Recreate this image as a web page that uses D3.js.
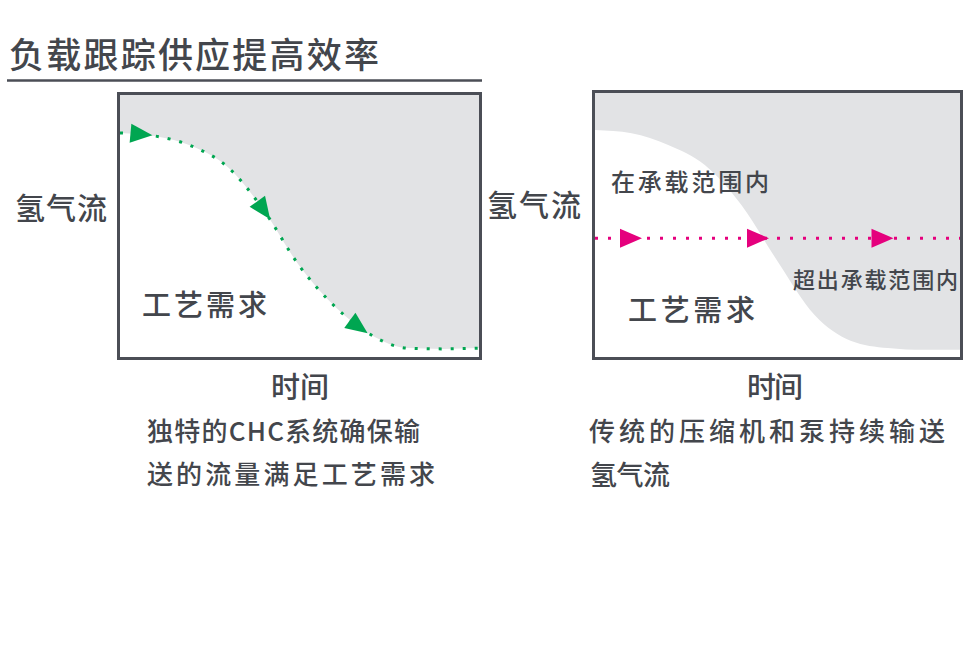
<!DOCTYPE html>
<html>
<head>
<meta charset="utf-8">
<script src="https://cdn.jsdelivr.net/npm/d3@7.9.0/dist/d3.min.js"></script>
<style>
  html, body { margin: 0; padding: 0; background: #fff; }
  svg { display: block; }
  text { font-family: "Noto Sans CJK SC", "Noto Sans", sans-serif; font-weight: 500; fill: #43464c; }
</style>
</head>
<body>
<svg id="chart" width="969" height="646"></svg>
<script>
// time axis is 0..10, flow axis is 0..10 for both panels
const timeSteps = [0, 1, 2, 3, 4, 5, 6, 7, 8, 9, 10];
const chcFlow = [8.55, 8.43, 8.05, 7.25, 5.61, 3.47, 1.91, 0.84, 0.34, 0.31, 0.34];
const processDemand = [8.60, 8.48, 8.03, 7.27, 5.76, 3.60, 1.59, 0.61, 0.34, 0.27, 0.27];
const constantFlow = [4.5, 4.5];
const constantTimes = [0, 10];
const greenArrowTimes = [0.6, 4.0, 6.65];
const pinkArrowTimes = [0.98, 4.45, 7.85];

const title = "负载跟踪供应提高效率";
const yLabel = "氢气流";
const xLabel = "时间";
const demandLabel = "工艺需求";
const leftCaption = ["独特的CHC系统确保输", "送的流量满足工艺需求"];
const rightCaption = ["传统的压缩机和泵持续输送", "氢气流"];
const inRangeLabel = "在承载范围内";
const outRangeLabel = "超出承载范围内";

const GRAY = "#e2e3e5";
const BORDER = "#4b4e56";
const GREEN = "#00a651";
const PINK = "#e5007d";

const svg = d3.select("#chart");

// title + rule
svg.append("text")
  .attr("x", 9).attr("y", 52)
  .attr("dominant-baseline", "central")
  .attr("font-size", 35)
  .attr("textLength", 370).attr("lengthAdjust", "spacing")
  .text(title);

svg.append("line")
  .attr("x1", 7).attr("x2", 482)
  .attr("y1", 80.5).attr("y2", 80.5)
  .attr("stroke", BORDER).attr("stroke-width", 2.5);

function label(x, y, size, len, str, anchor = "start") {
  const t = svg.append("text")
    .attr("x", x).attr("y", y)
    .attr("dominant-baseline", "central")
    .attr("text-anchor", anchor)
    .attr("font-size", size)
    .text(str);
  if (len) t.attr("textLength", len).attr("lengthAdjust", "spacing");
  return t;
}

function drawArrows(g, pathNode, xScale, times, color) {
  const total = pathNode.getTotalLength();
  const samples = d3.range(0, total, 0.5).map((l) => {
    const p = pathNode.getPointAtLength(l);
    return { l, x: p.x, y: p.y };
  });
  times.forEach((t) => {
    const tx = xScale(t);
    const s = samples.reduce((a, b) => (Math.abs(b.x - tx) < Math.abs(a.x - tx) ? b : a));
    const p0 = pathNode.getPointAtLength(Math.max(0, s.l - 3));
    const p1 = pathNode.getPointAtLength(Math.min(total, s.l + 3));
    const angle = Math.atan2(p1.y - p0.y, p1.x - p0.x) * 180 / Math.PI;
    g.append("path")
      .attr("d", "M11,0 L-11,-9.5 L-11,9.5 Z")
      .attr("fill", color)
      .attr("transform", `translate(${s.x},${s.y}) rotate(${angle})`);
  });
}

// ---------- left panel: CHC follows demand ----------
const left = { x0: 120, x1: 479, y0: 95, y1: 357 };
const xL = d3.scaleLinear().domain([0, 10]).range([left.x0, left.x1]);
const yL = d3.scaleLinear().domain([0, 10]).range([left.y1, left.y0]);
const gL = svg.append("g");

gL.append("path")
  .datum(timeSteps)
  .attr("fill", GRAY)
  .attr("d", d3.area()
    .x((d) => xL(d))
    .y0(left.y0)
    .y1((d, i) => yL(chcFlow[i]))
    .curve(d3.curveMonotoneX));

const greenLine = gL.append("path")
  .datum(timeSteps)
  .attr("fill", "none")
  .attr("stroke", GREEN)
  .attr("stroke-width", 3)
  .attr("stroke-dasharray", "3 9")
  .attr("d", d3.line()
    .x((d) => xL(d))
    .y((d, i) => yL(chcFlow[i]))
    .curve(d3.curveMonotoneX));

drawArrows(gL, greenLine.node(), xL, greenArrowTimes, GREEN);

gL.append("rect")
  .attr("x", 118.5).attr("y", 93.5)
  .attr("width", 362).attr("height", 265)
  .attr("fill", "none").attr("stroke", BORDER).attr("stroke-width", 3);

label(61, 206, 30, 92, yLabel, "middle");
label(142, 303, 29, 125, demandLabel);
label(300, 385, 29, 58, xLabel, "middle");
label(147, 429, 26, 273, leftCaption[0]);
label(147, 472, 26, 288, leftCaption[1]);

// ---------- right panel: constant supply ----------
const right = { x0: 595, x1: 961, y0: 93, y1: 357 };
const xR = d3.scaleLinear().domain([0, 10]).range([right.x0, right.x1]);
const yR = d3.scaleLinear().domain([0, 10]).range([right.y1, right.y0]);
const gR = svg.append("g");

gR.append("path")
  .datum(timeSteps)
  .attr("fill", GRAY)
  .attr("d", d3.area()
    .x((d) => xR(d))
    .y0(right.y0)
    .y1((d, i) => yR(processDemand[i]))
    .curve(d3.curveMonotoneX));

const pinkLine = gR.append("path")
  .datum(constantTimes)
  .attr("fill", "none")
  .attr("stroke", PINK)
  .attr("stroke-width", 3)
  .attr("stroke-dasharray", "3 10")
  .attr("d", d3.line()
    .x((d) => xR(d))
    .y((d, i) => yR(constantFlow[i])));

drawArrows(gR, pinkLine.node(), xR, pinkArrowTimes, PINK);

gR.append("rect")
  .attr("x", 593.5).attr("y", 91.5)
  .attr("width", 368).attr("height", 267)
  .attr("fill", "none").attr("stroke", BORDER).attr("stroke-width", 3);

label(534, 203, 30, 94, yLabel, "middle");
label(611, 180, 24, 158, inRangeLabel);
label(793, 278, 22, 165, outRangeLabel);
label(628, 308, 29, 127, demandLabel);
label(775, 385, 29, 56, xLabel, "middle");
label(589, 429, 26, 356, rightCaption[0]);
label(590, 473, 27, 80, rightCaption[1]);
</script>
</body>
</html>
